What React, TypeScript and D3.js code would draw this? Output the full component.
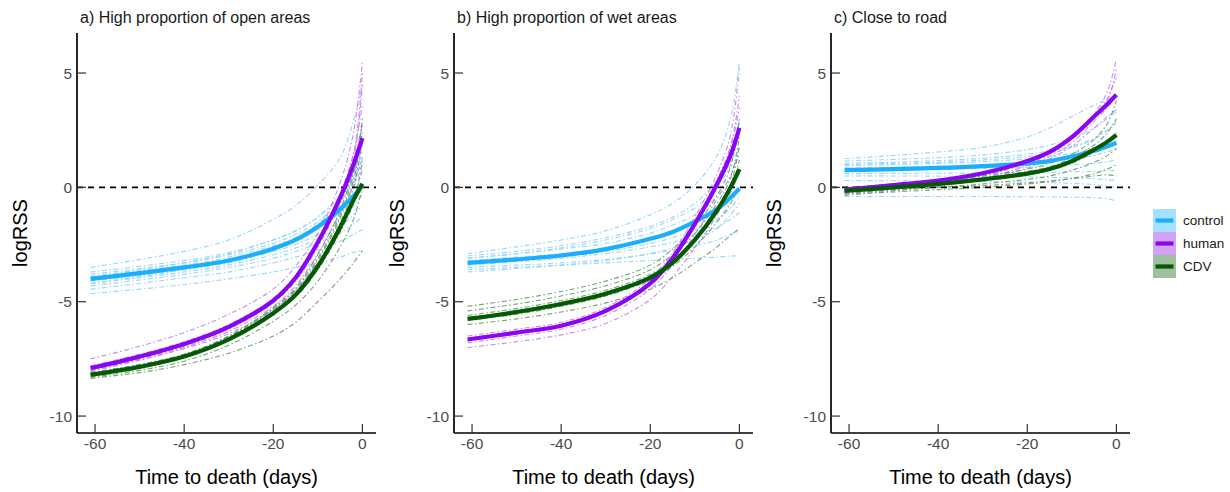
import React from 'react';
import * as d3 from 'd3';

// ---------- data ----------
const days = [-61, -50, -40, -30, -20, -15, -10, -5, -2, 0];
const xTicks = [-60, -40, -20, 0];
const yTicks = [-10, -5, 0, 5];
const groups = ['control', 'human', 'CDV'];
const panelTitles = ['a) High proportion of open areas', 'b) High proportion of wet areas', 'c) Close to road'];

// a) open areas
const openControlMean = [-4.0, -3.75, -3.5, -3.2, -2.68, -2.3, -1.72, -0.95, -0.38, 0.08];
const openControlInd = [
  [-3.5, -3.15, -2.8, -2.3, -1.4, -0.8, 0.1, 1.3, 2.9, 4.5],
  [-3.7, -3.45, -3.2, -2.85, -2.3, -1.9, -1.3, -0.3, 0.9, 2.3],
  [-3.8, -3.55, -3.3, -2.95, -2.45, -2.05, -1.5, -0.6, 0.4, 1.6],
  [-3.9, -3.65, -3.4, -3.05, -2.55, -2.2, -1.7, -0.9, 0.0, 1.0],
  [-4.0, -3.75, -3.5, -3.15, -2.65, -2.3, -1.8, -1.1, -0.4, 0.2],
  [-4.1, -3.85, -3.6, -3.3, -2.8, -2.5, -2.05, -1.4, -0.8, -0.3],
  [-4.2, -3.95, -3.7, -3.4, -2.95, -2.65, -2.25, -1.7, -1.2, -0.8],
  [-4.3, -4.05, -3.8, -3.5, -3.1, -2.8, -2.45, -2.0, -1.6, -1.3],
  [-4.45, -4.2, -3.95, -3.7, -3.3, -3.05, -2.75, -2.35, -2.05, -1.85],
  [-4.65, -4.45, -4.25, -4.0, -3.7, -3.5, -3.3, -3.05, -2.85, -2.75],
  [-4.2, -3.9, -3.6, -3.2, -2.6, -2.2, -1.6, -0.7, 0.3, 1.3],
  [-3.9, -3.6, -3.3, -2.9, -2.3, -1.9, -1.3, -0.4, 0.6, 1.9],
];
const openHumanMean = [-7.9, -7.4, -6.85, -6.1, -4.95, -3.95, -2.4, -0.45, 1.0, 2.15];
const openHumanInd = [
  [-7.5, -6.95, -6.35, -5.55, -4.45, -3.45, -2.0, 0.2, 2.4, 5.5],
  [-7.8, -7.3, -6.75, -6.0, -4.85, -3.85, -2.3, -0.3, 1.5, 3.6],
  [-7.9, -7.4, -6.85, -6.1, -4.95, -3.95, -2.4, -0.45, 1.1, 2.8],
  [-8.0, -7.5, -6.95, -6.2, -5.05, -4.1, -2.6, -0.7, 0.7, 2.0],
  [-7.95, -7.45, -6.9, -6.15, -5.0, -4.0, -2.45, -0.5, 1.2, 4.5],
  [-8.05, -7.55, -7.0, -6.3, -5.2, -4.3, -2.9, -1.1, 0.1, 1.3],
  [-7.85, -7.35, -6.8, -6.05, -4.9, -3.9, -2.35, -0.35, 1.4, 5.0],
  [-8.0, -7.55, -7.05, -6.4, -5.35, -4.5, -3.3, -1.7, -0.5, 0.8],
];
const openCdvMean = [-8.2, -7.85, -7.4, -6.65, -5.5, -4.7, -3.45, -1.75, -0.55, 0.16];
const openCdvInd = [
  [-8.1, -7.75, -7.3, -6.5, -5.3, -4.45, -3.1, -1.2, 0.6, 3.0],
  [-8.2, -7.85, -7.4, -6.6, -5.45, -4.65, -3.35, -1.55, 0.0, 2.0],
  [-8.25, -7.9, -7.45, -6.7, -5.55, -4.8, -3.6, -1.95, -0.7, 1.2],
  [-8.15, -7.8, -7.35, -6.55, -5.35, -4.55, -3.2, -1.35, 0.3, 2.5],
  [-8.3, -8.0, -7.6, -6.9, -5.85, -5.15, -4.1, -2.6, -1.4, 0.0],
  [-8.35, -8.1, -7.75, -7.25, -6.5, -5.9, -5.0, -4.0, -3.3, -2.75],
  [-8.1, -7.75, -7.3, -6.5, -5.25, -4.4, -2.95, -1.0, 0.8, 2.7],
];

// b) wet areas
const wetControlMean = [-3.3, -3.15, -2.98, -2.7, -2.25, -1.95, -1.5, -0.95, -0.45, -0.05];
const wetControlInd = [
  [-2.9, -2.6, -2.3, -1.9, -1.2, -0.7, 0.1, 1.4, 3.0, 5.5],
  [-3.0, -2.8, -2.55, -2.2, -1.7, -1.3, -0.7, 0.3, 1.5, 3.0],
  [-3.1, -2.9, -2.7, -2.45, -2.0, -1.65, -1.2, -0.4, 0.5, 1.8],
  [-3.2, -3.05, -2.9, -2.65, -2.25, -1.95, -1.5, -0.9, -0.2, 0.6],
  [-3.3, -3.15, -3.0, -2.8, -2.45, -2.2, -1.85, -1.4, -0.9, -0.4],
  [-3.4, -3.25, -3.1, -2.9, -2.6, -2.4, -2.1, -1.75, -1.4, -1.1],
  [-3.5, -3.4, -3.3, -3.15, -2.9, -2.75, -2.55, -2.3, -2.05, -1.9],
  [-3.6, -3.5, -3.4, -3.3, -3.2, -3.15, -3.1, -3.05, -3.0, -3.0],
  [-3.7, -3.55, -3.4, -3.2, -2.9, -2.65, -2.3, -1.8, -1.2, -0.7],
  [-3.1, -2.9, -2.65, -2.3, -1.8, -1.4, -0.9, 0.0, 1.0, 2.4],
];
const wetHumanMean = [-6.65, -6.35, -6.05, -5.4, -4.2, -3.1, -1.6, 0.15, 1.4, 2.6];
const wetHumanInd = [
  [-6.5, -6.2, -5.9, -5.25, -4.0, -2.85, -1.3, 0.6, 2.3, 5.2],
  [-6.6, -6.3, -6.0, -5.35, -4.1, -2.95, -1.45, 0.35, 1.8, 4.0],
  [-6.7, -6.4, -6.1, -5.45, -4.25, -3.15, -1.7, 0.0, 1.2, 2.8],
  [-6.8, -6.5, -6.2, -5.6, -4.45, -3.4, -2.05, -0.5, 0.5, 1.5],
  [-7.0, -6.75, -6.45, -5.95, -4.9, -3.9, -2.65, -1.2, -0.2, 0.9],
  [-6.6, -6.3, -6.0, -5.35, -4.15, -3.0, -1.5, 0.25, 1.7, 3.5],
];
const wetCdvMean = [-5.75, -5.45, -5.1, -4.65, -3.95, -3.3, -2.3, -1.0, 0.0, 0.8];
const wetCdvInd = [
  [-5.2, -4.9, -4.55, -4.1, -3.4, -2.7, -1.7, -0.35, 0.9, 3.0],
  [-5.4, -5.1, -4.75, -4.3, -3.6, -2.95, -2.0, -0.7, 0.4, 2.2],
  [-5.6, -5.3, -4.95, -4.5, -3.8, -3.15, -2.25, -1.05, -0.15, 1.2],
  [-5.8, -5.55, -5.2, -4.75, -4.05, -3.45, -2.6, -1.5, -0.7, 0.0],
  [-6.0, -5.75, -5.45, -5.05, -4.45, -3.95, -3.3, -2.6, -2.1, -1.8],
  [-5.7, -5.4, -5.05, -4.6, -3.9, -3.25, -2.3, -1.05, 0.1, 1.8],
];

// c) close to road
const roadControlMean = [0.75, 0.8, 0.85, 0.93, 1.05, 1.15, 1.35, 1.6, 1.8, 1.95];
const roadControlInd = [
  [1.25, 1.4, 1.55, 1.75, 2.2, 2.6, 3.1, 3.6, 3.85, 4.0],
  [1.15, 1.22, 1.3, 1.42, 1.65, 1.85, 2.15, 2.6, 3.0, 3.3],
  [1.05, 1.1, 1.17, 1.27, 1.45, 1.6, 1.8, 2.15, 2.5, 2.8],
  [0.95, 1.0, 1.05, 1.12, 1.25, 1.35, 1.5, 1.75, 2.0, 2.2],
  [0.85, 0.88, 0.92, 0.98, 1.08, 1.15, 1.25, 1.4, 1.55, 1.7],
  [0.75, 0.77, 0.8, 0.83, 0.88, 0.92, 0.98, 1.05, 1.12, 1.2],
  [0.6, 0.61, 0.62, 0.63, 0.65, 0.66, 0.68, 0.7, 0.72, 0.75],
  [0.5, 0.5, 0.49, 0.48, 0.46, 0.44, 0.42, 0.38, 0.33, 0.3],
  [0.3, 0.29, 0.28, 0.26, 0.23, 0.21, 0.18, 0.12, 0.05, 0.0],
  [-0.4, -0.4, -0.4, -0.4, -0.41, -0.42, -0.43, -0.45, -0.5, -0.6],
  [1.0, 1.05, 1.1, 1.2, 1.35, 1.5, 1.75, 2.1, 2.5, 2.9],
];
const roadHumanMean = [-0.1, 0.1, 0.3, 0.62, 1.15, 1.55, 2.2, 3.1, 3.65, 4.05];
const roadHumanInd = [
  [-0.2, 0.0, 0.2, 0.5, 1.05, 1.45, 2.1, 3.2, 4.2, 5.6],
  [-0.15, 0.05, 0.25, 0.55, 1.1, 1.5, 2.15, 3.1, 3.9, 4.8],
  [-0.3, -0.1, 0.1, 0.4, 0.95, 1.35, 1.95, 2.9, 3.5, 4.0],
  [-0.35, -0.15, 0.05, 0.35, 0.85, 1.25, 1.8, 2.6, 3.1, 3.4],
  [-0.1, 0.1, 0.3, 0.6, 1.15, 1.55, 2.2, 3.1, 3.8, 5.2],
];
const roadCdvMean = [-0.15, 0.0, 0.15, 0.35, 0.6, 0.8, 1.15, 1.65, 2.0, 2.3];
const roadCdvInd = [
  [0.0, 0.15, 0.3, 0.5, 0.8, 1.05, 1.45, 2.1, 2.8, 3.8],
  [-0.1, 0.05, 0.2, 0.4, 0.7, 0.9, 1.3, 1.85, 2.4, 3.0],
  [-0.2, -0.05, 0.1, 0.3, 0.55, 0.75, 1.05, 1.55, 1.95, 2.4],
  [-0.25, -0.12, 0.0, 0.15, 0.35, 0.5, 0.75, 1.1, 1.4, 1.7],
  [-0.3, -0.2, -0.1, 0.0, 0.15, 0.25, 0.4, 0.6, 0.8, 1.0],
  [-0.15, -0.08, 0.0, 0.08, 0.2, 0.28, 0.38, 0.5, 0.55, 0.5],
];

// ---------- styling ----------
const meanColors = ['#1aaefc', '#8a06f2', '#035a03'];
const indColors = ['#8fd5fb', '#c585f2', '#6f9e6f'];
const keyFills = ['#a4e1ff', '#d3a2f5', '#9fc09c'];

const panels = [
  { title: panelTitles[0], means: [openControlMean, openHumanMean, openCdvMean], inds: [openControlInd, openHumanInd, openCdvInd] },
  { title: panelTitles[1], means: [wetControlMean, wetHumanMean, wetCdvMean], inds: [wetControlInd, wetHumanInd, wetCdvInd] },
  { title: panelTitles[2], means: [roadControlMean, roadHumanMean, roadCdvMean], inds: [roadControlInd, roadHumanInd, roadCdvInd] },
];

const W = 1230;
const H = 492;
const panelLefts = [77, 454, 831];
const plotTop = 33;
const plotW = 299;
const plotH = 400;
const FONT = "'Liberation Sans', Arial, Helvetica, sans-serif";

export default function App() {
  const x = d3.scaleLinear().domain([-64.05, 3.05]).range([0, plotW]);
  const y = d3.scaleLinear().domain([-10.74, 6.75]).range([plotH, 0]);
  const line = d3
    .line<number>()
    .x((_d, i) => x(days[i]))
    .y((d) => y(d))
    .curve(d3.curveCatmullRom.alpha(0.5));

  return (
    <svg width={W} height={H} style={{ position: 'absolute', left: 0, top: 0, background: '#fff' }} fontFamily={FONT}>
      {panels.map((p, pi) => (
        <g key={pi} transform={`translate(${panelLefts[pi]},${plotTop})`}>
          <text x={3} y={-10} fontSize={16} fill="#1a1a1a">{p.title}</text>
          {p.inds.map((set, gi) =>
            set.map((vals, li) => (
              <path key={`i${gi}-${li}`} d={line(vals) || ''} fill="none" stroke={indColors[gi]}
                strokeWidth={1.1} strokeDasharray="5,2.5,1.5,2.5" opacity={0.95} />
            ))
          )}
          <line x1={0} x2={plotW} y1={y(0)} y2={y(0)} stroke="#000" strokeWidth={1.6} strokeDasharray="6,5" />
          {p.means.map((vals, gi) => (
            <path key={`m${gi}`} d={line(vals) || ''} fill="none" stroke={meanColors[gi]} strokeWidth={4.2} strokeLinecap="butt" />
          ))}
          {/* axes */}
          <line x1={0} x2={0} y1={0} y2={plotH} stroke="#000" strokeWidth={1.7} />
          <line x1={0} x2={plotW} y1={plotH} y2={plotH} stroke="#000" strokeWidth={1.7} />
          {yTicks.map((t) => (
            <g key={`y${t}`}>
              <line x1={0} x2={9} y1={y(t)} y2={y(t)} stroke="#333" strokeWidth={1.2} />
              <text x={-5} y={y(t)} dy="0.36em" textAnchor="end" fontSize={15.5} fill="#4d4d4d">{t}</text>
            </g>
          ))}
          {xTicks.map((t) => (
            <g key={`x${t}`}>
              <line x1={x(t)} x2={x(t)} y1={plotH} y2={plotH - 9} stroke="#333" strokeWidth={1.2} />
              <text x={x(t)} y={plotH + 16} textAnchor="middle" fontSize={15.5} fill="#4d4d4d">{t}</text>
            </g>
          ))}
          <text x={plotW / 2} y={plotH + 51} textAnchor="middle" fontSize={20} fill="#000">Time to death (days)</text>
          <text transform={`translate(-50,${plotH / 2}) rotate(-90)`} textAnchor="middle" fontSize={20} fill="#000">logRSS</text>
        </g>
      ))}
      {/* legend */}
      <g transform="translate(1153,209)">
        {groups.map((g, gi) => (
          <g key={g} transform={`translate(0,${gi * 23})`}>
            <rect x={0} y={0} width={23} height={23} fill={keyFills[gi]} />
            <line x1={2.5} x2={20.5} y1={11.5} y2={11.5} stroke={meanColors[gi]} strokeWidth={4.2} />
            <text x={30} y={11.5} dy="0.36em" fontSize={13.5} fill="#1a1a1a">{g}</text>
          </g>
        ))}
      </g>
    </svg>
  );
}
